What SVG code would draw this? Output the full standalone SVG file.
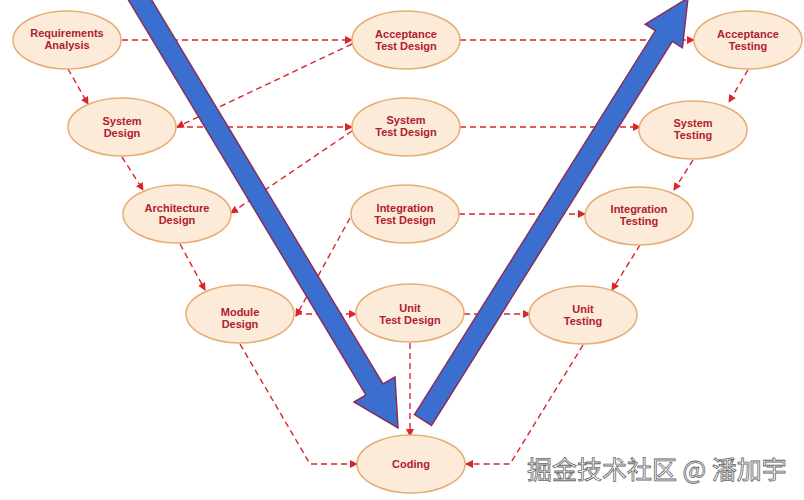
<svg xmlns="http://www.w3.org/2000/svg" width="804" height="500" viewBox="0 0 804 500">
<style>
.n ellipse{fill:#fcebd9;stroke:#e6ad74;stroke-width:1.5}
.n text{font-family:"Liberation Sans",Arial,sans-serif;font-weight:bold;font-size:11px;fill:#b0202e;text-anchor:middle}
.c path{fill:none;stroke:#d9262b;stroke-width:1.4;stroke-dasharray:6,4;marker-end:url(#a)}
.big{fill:#3b6fcf;stroke:#8a2c5c;stroke-width:1.5}
</style>
<defs><marker id="a" markerWidth="8" markerHeight="8" refX="7" refY="4" orient="auto" markerUnits="userSpaceOnUse"><path d="M0,0 L8,4 L0,8 z" fill="#d9262b"/></marker></defs>
<rect width="804" height="500" fill="#fff"/>
<g class="c">
<path d="M122,40 H352"/>
<path d="M460,40 H694"/>
<path d="M68,69 L88,104"/>
<path d="M352,44 L177,127"/>
<path d="M177,127 H352"/>
<path d="M460,127 H640"/>
<path d="M748,70 L729,102"/>
<path d="M122,157 L143,190"/>
<path d="M352,131 L231,213"/>
<path d="M459,214 H585"/>
<path d="M693,160 L674,190"/>
<path d="M180,244 L205,290"/>
<path d="M350,218 L296,316"/>
<path d="M296,314 H356"/>
<path d="M464,314 H530"/>
<path d="M640,245 L612,290"/>
<path d="M240,344 L310,464 H357"/>
<path d="M410,343 V436"/>
<path d="M583,345 L510,464 H466"/>
</g>
<polygon class="big" points="125.5,-4.8 366,395 354,402 398,428 395,377 383,384 142.5,-15.2"/>
<polygon class="big" points="414.5,414.6 655.4,30.6 645.2,24.2 688,-2 682.4,47.8 672.3,41.4 431.5,425.4"/>
<g id="ra" class="n"><ellipse cx="67" cy="40" rx="54" ry="29"/><text x="67" y="37">Requirements</text><text x="67" y="49">Analysis</text></g>
<g id="atd" class="n"><ellipse cx="406" cy="40" rx="54" ry="29"/><text x="406" y="38">Acceptance</text><text x="406" y="50">Test Design</text></g>
<g id="at" class="n"><ellipse cx="748" cy="40" rx="54" ry="29"/><text x="748" y="38">Acceptance</text><text x="748" y="50">Testing</text></g>
<g id="sd" class="n"><ellipse cx="122" cy="127" rx="54" ry="29"/><text x="122" y="125">System</text><text x="122" y="137">Design</text></g>
<g id="std" class="n"><ellipse cx="406" cy="127" rx="54" ry="29"/><text x="406" y="124">System</text><text x="406" y="136">Test Design</text></g>
<g id="st" class="n"><ellipse cx="693" cy="130" rx="54" ry="29"/><text x="693" y="127">System</text><text x="693" y="139">Testing</text></g>
<g id="ad" class="n"><ellipse cx="177" cy="214" rx="54" ry="29"/><text x="177" y="212">Architecture</text><text x="177" y="224">Design</text></g>
<g id="itd" class="n"><ellipse cx="405" cy="214" rx="54" ry="29"/><text x="405" y="212">Integration</text><text x="405" y="224">Test Design</text></g>
<g id="it" class="n"><ellipse cx="639" cy="216" rx="54" ry="29"/><text x="639" y="213">Integration</text><text x="639" y="225">Testing</text></g>
<g id="md" class="n"><ellipse cx="240" cy="314" rx="54" ry="29"/><text x="240" y="316">Module</text><text x="240" y="328">Design</text></g>
<g id="utd" class="n"><ellipse cx="410" cy="313" rx="54" ry="29"/><text x="410" y="312">Unit</text><text x="410" y="324">Test Design</text></g>
<g id="ut" class="n"><ellipse cx="583" cy="315" rx="54" ry="29"/><text x="583" y="313">Unit</text><text x="583" y="325">Testing</text></g>
<g id="coding" class="n"><ellipse cx="411" cy="464" rx="54" ry="29"/><text x="411" y="468">Coding</text></g>
<text x="527" y="479" font-family="'Noto Sans CJK SC',sans-serif" font-size="25" fill="#fff" stroke="#666" stroke-width="0.8">掘金技术社区 @ 潘加宇</text>
</svg>
